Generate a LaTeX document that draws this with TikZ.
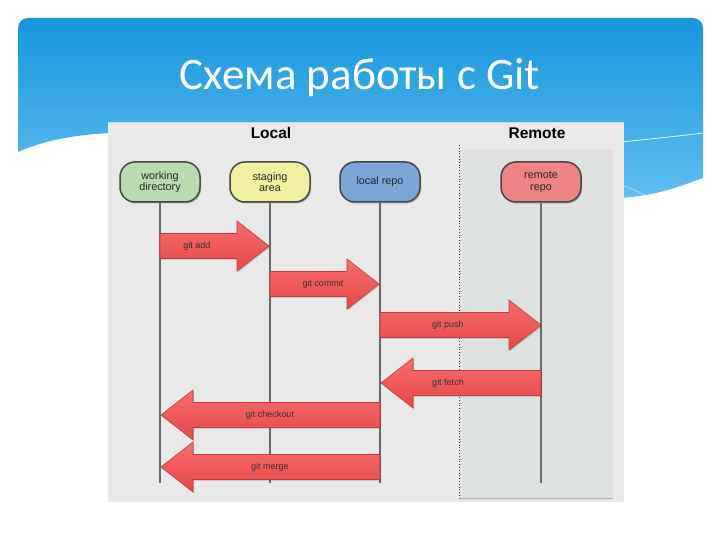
\documentclass[tikz,border=0pt]{standalone}
\usepackage{fontspec}
\setmainfont{Liberation Sans}
\newfontfamily\titlefont{Carlito}
\usetikzlibrary{shadows}
\definecolor{bannertop}{RGB}{22,150,222}
\definecolor{bannerbot}{RGB}{95,190,238}
\definecolor{panelbg}{RGB}{233,233,233}
\definecolor{remotebg}{RGB}{221,226,224}
\definecolor{wdfill}{RGB}{184,220,176}
\definecolor{safill}{RGB}{240,240,160}
\definecolor{lrfill}{RGB}{122,166,216}
\definecolor{rrfill}{RGB}{240,132,132}
\definecolor{nodeedge}{RGB}{70,70,70}
\definecolor{lifegray}{RGB}{105,105,105}
\definecolor{arrowtop}{RGB}{246,110,110}
\definecolor{arrowbot}{RGB}{232,70,70}
\definecolor{arrowedge}{RGB}{190,60,60}
\tikzset{
  stage/.style={draw=nodeedge, line width=1.5pt, rounded corners=15pt,
    minimum width=80pt, minimum height=40pt, align=center, inner sep=1pt,
    font=\fontsize{10.8}{11.5}\selectfont, text=black!85,
    drop shadow={shadow xshift=1.2pt, shadow yshift=-1.5pt, fill=black, opacity=0.25}},
  lifeline/.style={draw=lifegray, line width=1.4pt},
  header/.style={font=\bfseries\fontsize{15.5}{17}\selectfont, text=black},
  blockarrow/.style={top color=arrowtop, bottom color=arrowbot, draw=arrowedge, line width=0.6pt,
    drop shadow={shadow xshift=1pt, shadow yshift=-1.2pt, fill=black, opacity=0.2}},
  arrowlabel/.style={font=\fontsize{9}{10}\selectfont, text=black!80, inner sep=0pt},
  titletext/.style={text=white, font=\titlefont\fontsize{45}{47}\selectfont},
}
% #1 from x, #2 to x, #3 y, #4 label x, #5 name, #6 label
\newcommand{\gitarrow}[6]{%
  \pgfmathsetmacro\gdir{(#2>#1)?1:-1}%
  \pgfmathsetmacro\ghb{#2-\gdir*32}%
  \path[blockarrow] (#1,#3-12.5) -- (\ghb,#3-12.5) -- (\ghb,#3-25) -- (#2,#3)
     -- (\ghb,#3+25) -- (\ghb,#3+12.5) -- (#1,#3+12.5) -- cycle;
  \node[arrowlabel] (#5) at (#4,#3) {#6};
}
\begin{document}
\begin{tikzpicture}[x=1pt,y=-1pt]
\useasboundingbox (0,0) rectangle (720,540);
\fill[white] (0,0) rectangle (720,540);
% banner
\shade[top color=bannertop, bottom color=bannerbot]
  (18,152) -- (18,28) arc[start angle=180, end angle=270, radius=10]
  -- (693,18) arc[start angle=270, end angle=360, radius=10]
  -- (703,178) .. controls (675,188) and (650,198) .. (610,198)
  .. controls (400,190) and (200,130) .. (110,133)
  .. controls (70,135) and (40,142) .. (18,152) -- cycle;
\draw[white, line width=0.8pt, opacity=0.9] (612,143) .. controls (640,140) and (680,136) .. (703,133);
\draw[white, line width=0.6pt, opacity=0.6] (612,182) .. controls (625,186) and (635,190) .. (645,195);
\node[titletext] (title) at (360,78) {Схема работы с Git};
% panel
\fill[panelbg] (108,122) rectangle (624,502);
\draw[white!85!black, line width=0.5pt] (108,122) -- (624,122);
\fill[remotebg] (460,150) rectangle (613,500);
\draw[black!30, line width=0.8pt] (460,498) -- (613,498);
\draw[black!80, line width=0.8pt, dotted] (459,145) -- (459,500);
\node[header] (local) at (271,133) {Local};
\node[header] (remote) at (537,133) {Remote};
% stages
\node[stage, fill=wdfill] (wd) at (160,182) {working\\directory};
\node[stage, fill=safill] (sa) at (270,182) {staging\\area};
\node[stage, fill=lrfill] (lr) at (380,182) {local repo};
\node[stage, fill=rrfill] (rr) at (541,182) {remote\\repo};
\coordinate (wdend) at (160,483);
\coordinate (saend) at (270,483);
\coordinate (lrend) at (380,483);
\coordinate (rrend) at (541,483);
\draw[lifeline] (wd) -- (wdend);
\draw[lifeline] (sa) -- (saend);
\draw[lifeline] (lr) -- (lrend);
\draw[lifeline] (rr) -- (rrend);
% arrows
\gitarrow{160}{269}{246}{197}{add}{git add}
\gitarrow{270}{379}{284}{323}{commit}{git commit}
\gitarrow{380}{541}{325}{448}{push}{git push}
\gitarrow{541}{381}{383}{448}{fetch}{git fetch}
\gitarrow{380}{161}{415}{270}{checkout}{git checkout}
\gitarrow{380}{161}{467}{270}{merge}{git merge}
\end{tikzpicture}
\end{document}
